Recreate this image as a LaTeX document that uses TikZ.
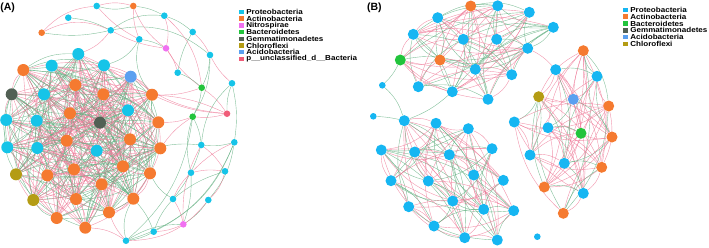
\documentclass[tikz,border=0pt]{standalone}
\usepackage{fontspec}
\setmainfont{Liberation Sans}
\newfontfamily\legendfont[FakeStretch=1.12]{Liberation Sans}
\usepackage{tikz}
\usetikzlibrary{positioning}
\pgfdeclarelayer{background}
\pgfsetlayers{background,main}

\definecolor{cProteo}{RGB}{22,196,232}
\definecolor{cProteoB}{RGB}{22,182,242}
\definecolor{cActino}{RGB}{245,122,48}
\definecolor{cNitro}{RGB}{240,112,240}
\definecolor{cBactero}{RGB}{34,196,60}
\definecolor{cGemma}{RGB}{82,96,84}
\definecolor{cChloro}{RGB}{180,156,20}
\definecolor{cAcido}{RGB}{90,160,240}
\definecolor{cUncl}{RGB}{240,92,120}
\definecolor{linkPink}{RGB}{238,122,152}
\definecolor{linkGreen}{RGB}{100,176,130}

% links of one cluster: prefix, number of nodes, percent kept, percent pink
\newcommand{\meshlinks}[4]{%
  \pgfmathtruncatemacro{\meshlast}{#2-1}
  \foreach \i in {1,...,\meshlast}{
    \pgfmathtruncatemacro{\meshnext}{\i+1}
    \foreach \j in {\meshnext,...,#2}{
      \pgfmathrandominteger{\meshroll}{1}{100}
      \pgfmathrandominteger{\meshtint}{1}{100}
      \pgfmathrandominteger{\meshside}{0}{1}
      \ifnum\meshroll>#3\relax\else
        \ifnum\meshtint>#4\relax\def\meshstyle{neglink}\else\def\meshstyle{poslink}\fi
        \ifnum\meshside=0 \draw[\meshstyle] (#1\i) to[bend left=18] (#1\j);
        \else\draw[\meshstyle] (#1\i) to[bend right=18] (#1\j);\fi
      \fi
    }
  }
}

\begin{document}
\begin{tikzpicture}
    [x=1pt, y=-1pt,
    dot/.style={circle, inner sep=0pt, draw=none},
    big/.style={dot, minimum size=12pt},
    mid/.style={dot, minimum size=11pt},
    small/.style={dot, minimum size=6.6pt},
    proteo/.style={fill=cProteo}, proteoB/.style={fill=cProteoB},
    actino/.style={fill=cActino}, nitro/.style={fill=cNitro},
    bactero/.style={fill=cBactero}, gemma/.style={fill=cGemma},
    chloro/.style={fill=cChloro}, acido/.style={fill=cAcido},
    uncl/.style={fill=cUncl},
    poslink/.style={draw=linkPink, line width=0.4pt, draw opacity=0.8},
    neglink/.style={draw=linkGreen, line width=0.4pt, draw opacity=0.8},
    legsq/.style={inner sep=0pt, minimum size=4.5pt},
    legtxt/.style={inner sep=0pt, anchor=west, font=\legendfont\bfseries\fontsize{7.2}{7.2}\selectfont},
    panel/.style={inner sep=0pt, font=\bfseries\fontsize{10.5}{10.5}\selectfont}]

\useasboundingbox (0,0) rectangle (709,247);
\pgfmathsetseed{4242}

%% (A)
\node[panel] (labA) at (7.6,7.7) {(A)};
\foreach \n/\x/\y/\k in {a1/78.3/54/proteo, a2/51.7/65.7/proteo, a3/104/65.3/proteo,
    a4/23.3/70/actino, a5/130.7/76.7/acido, a6/75.3/85/actino, a7/11.7/94.3/gemma,
    a8/44/94.3/proteo, a9/103.3/94.3/actino, a10/152/94.7/actino, a11/128/110.3/proteo,
    a12/70/113.3/actino, a13/6.2/120/proteo, a14/36.7/120.7/proteo, a15/100/122.7/gemma,
    a16/158.3/122.3/actino, a17/130/139.3/actino, a18/66.7/140.7/actino, a19/7.3/147.3/proteo,
    a20/37.3/148/proteo, a21/96.7/150.7/proteo, a22/160.3/148.3/actino, a23/123/166.3/actino,
    a24/74/169.3/actino, a25/150/173.3/actino, a26/16/174.3/chloro, a27/47.3/175.3/actino,
    a28/101.7/184.3/actino, a29/33.3/200/chloro, a30/76/199/actino, a31/133.3/198.7/actino,
    a32/109/212.3/actino, a33/56.7/218/actino, a34/85.3/227.7/actino}
    \node[big, \k] (\n) at (\x,\y) {};
\foreach \n/\x/\y/\k in {p1/96.7/6/proteo, p2/133.3/6/actino, p3/68.3/17.7/proteo,
    p4/164.3/15.7/proteo, p5/41.7/32.7/actino, p6/110.7/30.3/proteo, p7/192.7/32/proteo,
    p8/139.3/39.3/proteo, p9/166/48.3/nitro, p10/210/55/proteo, p11/177.7/72.7/proteo,
    p12/232/83.3/proteo, p13/201.7/87.7/bactero, p14/227/113.7/uncl, p15/192.7/116.7/bactero,
    p16/201.3/145/proteo, p17/234.3/142.3/proteo, p18/191/172.7/proteo, p19/225/171.3/proteo,
    p20/173/199/proteo, p21/208.3/200/proteo, p22/183.3/224.3/nitro, p23/153.7/231.7/proteo,
    p24/126/240.7/proteo}
    \node[small, \k] (\n) at (\x,\y) {};

\foreach \t/\c [count=\r] in {Proteobacteria/cProteo, Actinobacteria/cActino,
    Nitrospirae/cNitro, Bacteroidetes/cBactero, Gemmatimonadetes/cGemma,
    Chloroflexi/cChloro, Acidobacteria/cAcido, p\_\_unclassified\_d\_\_Bacteria/cUncl}{
    \node[legsq, fill=\c] (legA\r) at (241.5,5.3+6.7*\r) {};
    \node[legtxt, right=2.2pt of legA\r] (legAt\r) {\t};
}

%% (B)
\node[panel] (labB) at (374.3,7.5) {(B)};
\foreach \n/\x/\y/\k in {t1/470.7/6/actino, t2/497.7/5.8/proteoB, t3/529.3/12.3/proteoB,
    t4/437.7/17.7/proteoB, t5/553.3/27.3/proteoB, t6/413.3/34.3/proteoB, t7/463.3/39.3/proteoB,
    t8/496.7/39.3/proteoB, t9/527.7/48.3/proteoB, t10/400.3/60/bactero, t11/440/60/actino,
    t12/475.3/69.3/proteoB, t13/511.7/74.7/proteoB, t14/418.3/86.7/proteoB,
    t15/452.3/91.7/proteoB, t16/488/99.3/proteoB,
    l1/404.3/120.7/proteoB, l2/436/123.3/proteoB, l3/468.3/128.7/proteoB, l4/381.3/150/proteoB,
    l5/414.7/152/proteoB, l6/449.3/154.7/proteoB, l7/492/148.7/proteoB, l8/391/180.7/proteoB,
    l9/428.3/181/proteoB, l10/473.7/175/proteoB, l11/503.3/180.3/proteoB, l12/452.7/201/proteoB,
    l13/408.7/206.7/proteoB, l14/483.7/209.3/proteoB, l15/513.7/210.7/proteoB,
    l16/434/226/proteoB, l17/464.7/237.7/proteoB, l18/497.3/240/proteoB,
    r1/583.3/50.7/actino, r2/555.7/69.7/proteoB, r3/597/76.3/proteoB, r4/538.7/96.7/chloro,
    r5/573.3/99.3/acido, r6/608.7/106/actino, r7/514.3/122/proteoB, r8/548/127.7/proteoB,
    r9/581/133.3/bactero, r10/612/137/actino, r11/530/155/proteoB, r12/564.3/163.3/proteoB,
    r13/601.7/167.3/actino, r14/544.3/187/actino, r15/583.3/193.3/proteoB, r16/563.3/213.3/actino}
    \node[mid, \k] (\n) at (\x,\y) {};
\foreach \n/\x/\y in {s1/382.3/85.3, s2/373.3/116.3, s3/537.3/236.7}
    \node[small, proteoB] (\n) at (\x,\y) {};

\foreach \t/\c [count=\r] in {Proteobacteria/cProteoB, Actinobacteria/cActino,
    Bacteroidetes/cBactero, Gemmatimonadetes/cGemma, Acidobacteria/cAcido,
    Chloroflexi/cChloro}{
    \node[legsq, fill=\c] (legB\r) at (625.5,2.9+6.85*\r) {};
    \node[legtxt, right=2.2pt of legB\r] (legBt\r) {\t};
}

\begin{pgfonlayer}{background}
\meshlinks{a}{34}{62}{52}
\foreach \u/\v/\s/\b in {p5/p6/poslink/25, p5/p6/neglink/-10, p5/p1/poslink/20,
    p3/p6/neglink/10, p1/p2/poslink/15, p1/p2/neglink/-15, p1/p8/poslink/-10,
    p2/p4/neglink/10, p2/p8/poslink/-10, p2/p9/poslink/-15, p4/p7/neglink/10,
    p4/p9/poslink/15, p6/p4/neglink/20, p6/p9/poslink/-10, p6/p10/neglink/25,
    p8/p9/neglink/10, p7/p10/poslink/10, p7/p11/neglink/-10, p9/p11/poslink/10,
    p9/p13/poslink/-10, p4/p13/poslink/20, p10/p13/neglink/10, p10/p12/poslink/-10,
    p10/p15/neglink/15, p11/p13/neglink/10, a1/p6/poslink/-15, a3/p8/neglink/-20,
    p8/a10/neglink/-25, p13/p14/poslink/10, p12/p14/neglink/-10, p12/p16/neglink/-20,
    p12/p17/neglink/10, a10/p14/poslink/-10, a10/p14/poslink/10, a5/p14/poslink/-15,
    a10/p13/poslink/-10, p13/p15/neglink/10, p15/p14/poslink/-10, p15/a16/poslink/10,
    p15/a22/poslink/-10, p15/p16/neglink/10, p15/p18/neglink/-15, p15/p24/neglink/20,
    p16/p17/neglink/-10, p16/p19/poslink/10, p16/p20/neglink/10, p17/p18/poslink/-10,
    p17/p21/neglink/15, p17/p23/neglink/20, p17/p24/neglink/25, p18/p19/poslink/10,
    p18/p20/poslink/-10, p18/p22/neglink/10, p19/p21/poslink/15, p19/p20/neglink/-10,
    p20/p22/poslink/10, p21/p22/neglink/10, p20/p23/neglink/-10, p22/p23/poslink/10,
    p22/p24/neglink/-15, p23/p24/neglink/10, p24/a34/poslink/-15, p24/a31/neglink/20,
    p24/a32/poslink/10, p23/a31/neglink/-10, p20/a25/neglink/15, p16/a23/neglink/-20,
    p21/p24/poslink/25, p16/p22/poslink/-15}
    \draw[\s] (\u) to[bend left=\b] (\v);
\meshlinks{t}{16}{68}{50}
\meshlinks{l}{18}{62}{50}
\meshlinks{r}{16}{66}{70}
\foreach \u/\v/\s/\b in {s1/t10/neglink/-10, s1/l1/neglink/15, s2/l1/neglink/5,
    l1/t15/neglink/-10, t9/r2/poslink/10}
    \draw[\s] (\u) to[bend left=\b] (\v);
\end{pgfonlayer}
\end{tikzpicture}
\end{document}
